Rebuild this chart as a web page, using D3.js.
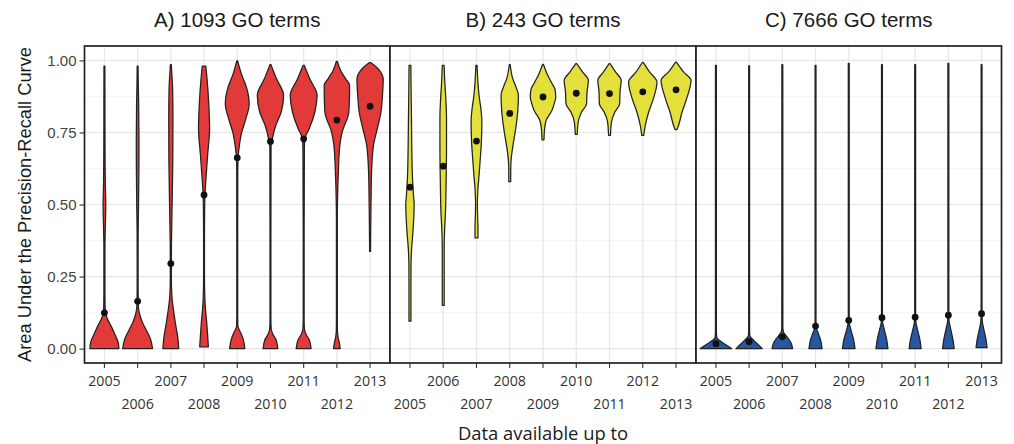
<!DOCTYPE html>
<html>
<head>
<meta charset="utf-8">
<script src="https://cdn.jsdelivr.net/npm/d3@7"></script>
<style>
html,body{margin:0;padding:0;background:#fff;}
svg{display:block;}
</style>
</head>
<body>
<svg id="chart" width="1014" height="444"></svg>
<script>
// ---------------- DATA ----------------
const years = ["2005","2006","2007","2008","2009","2010","2011","2012","2013"];
const panelTitles = ["A) 1093 GO terms", "B) 243 GO terms", "C) 7666 GO terms"];
const yTicks = [0, 0.25, 0.5, 0.75, 1.0];
const yMinorTicks = [0.125, 0.375, 0.625, 0.875];
const xTitle = "Data available up to";
const yTitle = "Area Under the Precision-Recall Curve";

// summary points (one per year)
const pointsA = [0.124, 0.164, 0.295, 0.533, 0.662, 0.719, 0.728, 0.793, 0.841];
const pointsB = [0.560, 0.633, 0.720, 0.816, 0.873, 0.886, 0.885, 0.891, 0.898];
const pointsC = [0.017, 0.024, 0.041, 0.078, 0.098, 0.107, 0.109, 0.116, 0.121];

// violin profiles: [AUPRC value, relative density]
const violinsA = [
  [[0,0.97],[0.02,0.93],[0.055,0.65],[0.078,0.45],[0.101,0.22],[0.119,0.1],[0.135,0.05],[0.2,0.035],[0.35,0.035],[0.42,0.06],[0.5,0.09],[0.57,0.06],[0.7,0.04],[0.85,0.035],[0.98,0.03]],
  [[0,1.0],[0.032,0.87],[0.067,0.55],[0.09,0.33],[0.113,0.17],[0.136,0.07],[0.16,0.04],[0.25,0.03],[0.4,0.035],[0.5,0.06],[0.6,0.08],[0.72,0.09],[0.85,0.07],[0.93,0.04],[0.98,0.03]],
  [[0,0.53],[0.032,0.48],[0.09,0.3],[0.136,0.17],[0.17,0.09],[0.205,0.05],[0.25,0.035],[0.35,0.04],[0.45,0.07],[0.55,0.1],[0.65,0.13],[0.8,0.14],[0.9,0.12],[0.96,0.06],[0.985,0.03]],
  [[0.006,0.29],[0.055,0.23],[0.09,0.18],[0.136,0.1],[0.182,0.05],[0.25,0.03],[0.4,0.03],[0.48,0.04],[0.544,0.07],[0.59,0.13],[0.671,0.24],[0.764,0.37],[0.845,0.32],[0.937,0.2],[0.98,0.12]],
  [[0,0.51],[0.032,0.4],[0.055,0.23],[0.067,0.11],[0.08,0.04],[0.12,0.03],[0.4,0.03],[0.62,0.035],[0.666,0.06],[0.7,0.13],[0.747,0.28],[0.793,0.55],[0.85,0.8],[0.908,0.61],[0.954,0.27],[0.998,0.03]],
  [[0,0.49],[0.03,0.38],[0.05,0.16],[0.069,0.05],[0.1,0.03],[0.4,0.03],[0.7,0.04],[0.729,0.13],[0.775,0.36],[0.821,0.72],[0.879,0.88],[0.937,0.4],[0.965,0.18],[0.985,0.04]],
  [[0,0.5],[0.03,0.38],[0.05,0.16],[0.069,0.05],[0.1,0.03],[0.4,0.03],[0.7,0.05],[0.735,0.12],[0.762,0.36],[0.821,0.75],[0.879,0.9],[0.937,0.4],[0.965,0.18],[0.983,0.04]],
  [[0,0.22],[0.02,0.17],[0.04,0.08],[0.06,0.04],[0.1,0.03],[0.45,0.03],[0.55,0.06],[0.614,0.1],[0.706,0.2],[0.752,0.36],[0.82,0.8],[0.87,0.84],[0.914,0.85],[0.937,0.58],[0.965,0.25],[0.997,0.03]],
  [[0.337,0.03],[0.45,0.05],[0.533,0.07],[0.614,0.1],[0.706,0.23],[0.764,0.49],[0.821,0.73],[0.879,0.83],[0.937,0.88],[0.96,0.7],[0.978,0.4],[0.992,0.06]]
];
const violinsB = [
  [[0.095,0.065],[0.2,0.065],[0.29,0.07],[0.338,0.1],[0.406,0.2],[0.45,0.25],[0.498,0.28],[0.53,0.24],[0.56,0.2],[0.59,0.17],[0.706,0.12],[0.8,0.1],[0.9,0.075],[0.983,0.06]],
  [[0.15,0.065],[0.36,0.065],[0.39,0.08],[0.42,0.1],[0.47,0.15],[0.535,0.18],[0.6,0.2],[0.7,0.22],[0.8,0.22],[0.87,0.17],[0.93,0.1],[0.983,0.06]],
  [[0.384,0.1],[0.42,0.1],[0.46,0.075],[0.5,0.06],[0.557,0.1],[0.6,0.17],[0.649,0.24],[0.72,0.33],[0.787,0.36],[0.83,0.3],[0.879,0.17],[0.93,0.09],[0.983,0.04]],
  [[0.579,0.065],[0.62,0.065],[0.66,0.1],[0.706,0.22],[0.764,0.4],[0.821,0.53],[0.879,0.58],[0.91,0.4],[0.937,0.2],[0.985,0.03]],
  [[0.724,0.065],[0.76,0.1],[0.793,0.22],[0.827,0.6],[0.85,0.75],[0.873,0.85],[0.9,0.8],[0.92,0.6],[0.95,0.3],[0.986,0.03]],
  [[0.743,0.065],[0.787,0.13],[0.82,0.35],[0.85,0.69],[0.89,0.72],[0.931,0.81],[0.96,0.42],[0.989,0.03]],
  [[0.74,0.065],[0.787,0.13],[0.82,0.35],[0.85,0.68],[0.89,0.7],[0.931,0.78],[0.96,0.4],[0.989,0.03]],
  [[0.74,0.065],[0.775,0.17],[0.82,0.39],[0.869,0.72],[0.925,0.95],[0.96,0.45],[0.993,0.03]],
  [[0.76,0.065],[0.775,0.17],[0.82,0.4],[0.869,0.72],[0.931,1.0],[0.96,0.5],[0.994,0.03]]
];
const violinsC = [
  [[0,1.05],[0.008,0.82],[0.016,0.58],[0.025,0.34],[0.033,0.14],[0.04,0.05],[0.06,0.03],[0.983,0.03]],
  [[0,0.88],[0.01,0.68],[0.02,0.48],[0.03,0.28],[0.04,0.1],[0.048,0.04],[0.07,0.03],[0.981,0.03]],
  [[0,0.69],[0.02,0.58],[0.035,0.4],[0.048,0.2],[0.058,0.07],[0.075,0.035],[0.985,0.03]],
  [[0,0.44],[0.032,0.33],[0.055,0.17],[0.072,0.05],[0.09,0.03],[0.983,0.03]],
  [[0,0.42],[0.03,0.33],[0.06,0.17],[0.085,0.05],[0.1,0.03],[0.99,0.03]],
  [[0,0.4],[0.03,0.32],[0.065,0.16],[0.09,0.05],[0.11,0.03],[0.985,0.03]],
  [[0,0.4],[0.03,0.32],[0.065,0.16],[0.092,0.05],[0.11,0.03],[0.985,0.03]],
  [[0,0.39],[0.03,0.31],[0.067,0.16],[0.095,0.05],[0.115,0.03],[0.99,0.03]],
  [[0.003,0.37],[0.03,0.3],[0.067,0.15],[0.095,0.05],[0.12,0.03],[0.985,0.03]]
];
const panelColors = ["#e23a38", "#e3e03c", "#2757a2"];

// ---------------- LAYOUT ----------------
const svg = d3.select("#chart");
const plotTop = 46, plotBottom = 363;
const panelEdges = [84.5, 390, 696, 1001.5];
const panels = [
  {title: panelTitles[0], points: pointsA, violins: violinsA, color: panelColors[0], firstRowOdd: true},
  {title: panelTitles[1], points: pointsB, violins: violinsB, color: panelColors[1], firstRowOdd: false},
  {title: panelTitles[2], points: pointsC, violins: violinsC, color: panelColors[2], firstRowOdd: true}
];

const y = d3.scaleLinear().domain([-0.05, 1.05]).range([plotBottom, plotTop]);

// y axis title
svg.append("text")
  .attr("transform", `translate(31,${(plotTop+plotBottom)/2}) rotate(-90)`)
  .attr("text-anchor", "middle")
  .attr("font-family", "Liberation Sans, Arial, sans-serif")
  .attr("font-size", 18.3)
  .attr("fill", "#1a1a1a")
  .text(yTitle);

// y axis (left of panel A)
const yAxis = d3.axisLeft(y).tickValues(yTicks).tickFormat(d3.format(".2f")).tickSize(5).tickPadding(3);
const yg = svg.append("g").attr("transform", `translate(${panelEdges[0]},0)`).call(yAxis);
yg.select(".domain").remove();
yg.selectAll(".tick line").attr("stroke", "#333").attr("stroke-width", 1.1);
yg.selectAll(".tick text").attr("font-family", "Liberation Sans, Arial, sans-serif").attr("font-size", 15).attr("fill", "#444");

const area = d3.area().curve(d3.curveMonotoneY);

panels.forEach((p, i) => {
  const x0 = panelEdges[i], x1 = panelEdges[i+1];
  const x = d3.scalePoint().domain(years).range([x0, x1]).padding(0.6);
  const w = d3.scaleLinear().domain([0, 1]).range([0, x.step() * 0.45]);
  const g = svg.append("g");

  // background
  g.append("rect").attr("x", x0).attr("y", plotTop).attr("width", x1 - x0).attr("height", plotBottom - plotTop).attr("fill", "#fff");

  // grid
  g.selectAll(".ymin").data(yMinorTicks).join("line")
    .attr("x1", x0).attr("x2", x1).attr("y1", d => y(d)).attr("y2", d => y(d))
    .attr("stroke", "#f1f1f1").attr("stroke-width", 0.7);
  g.selectAll(".ymaj").data(yTicks).join("line")
    .attr("x1", x0).attr("x2", x1).attr("y1", d => y(d)).attr("y2", d => y(d))
    .attr("stroke", "#e6e6e6").attr("stroke-width", 1.2);
  g.selectAll(".xmaj").data(years).join("line")
    .attr("x1", d => x(d)).attr("x2", d => x(d)).attr("y1", plotTop).attr("y2", plotBottom)
    .attr("stroke", "#e6e6e6").attr("stroke-width", 1.2);

  // violins
  g.selectAll(".violin").data(p.violins).join("path")
    .attr("d", (prof, j) => {
      const cx = x(years[j]);
      return area.y(d => y(d[0])).x0(d => cx - w(d[1])).x1(d => cx + w(d[1]))(prof);
    })
    .attr("fill", p.color)
    .attr("stroke", "#222")
    .attr("stroke-width", 1.25)
    .attr("stroke-linejoin", "round");

  // points
  g.selectAll(".pt").data(p.points).join("circle")
    .attr("cx", (d, j) => x(years[j])).attr("cy", d => y(d)).attr("r", 3.4)
    .attr("fill", "#111");

  // border
  g.append("rect").attr("x", x0).attr("y", plotTop).attr("width", x1 - x0).attr("height", plotBottom - plotTop)
    .attr("fill", "none").attr("stroke", "#222").attr("stroke-width", 1.7);

  // x ticks
  g.selectAll(".xt").data(years).join("line")
    .attr("x1", d => x(d)).attr("x2", d => x(d)).attr("y1", plotBottom).attr("y2", plotBottom + 5)
    .attr("stroke", "#333").attr("stroke-width", 1.1);

  // x tick labels (two staggered rows)
  g.selectAll(".xl").data(years).join("text")
    .attr("x", d => x(d))
    .attr("y", (d, j) => ((j % 2 === 0) === p.firstRowOdd) ? 386 : 409)
    .attr("text-anchor", "middle")
    .attr("font-family", "Open Sans, sans-serif")
    .attr("font-size", 14.2)
    .attr("fill", "#333")
    .text(d => d);

  // panel title
  g.append("text")
    .attr("x", (x0 + x1) / 2).attr("y", 27)
    .attr("text-anchor", "middle")
    .attr("font-family", "Liberation Sans, Arial, sans-serif")
    .attr("font-size", 20.5)
    .attr("fill", "#1a1a1a")
    .text(p.title);
});

// x axis title
svg.append("text")
  .attr("x", (panelEdges[0] + panelEdges[3]) / 2).attr("y", 440)
  .attr("text-anchor", "middle")
  .attr("font-family", "Open Sans, sans-serif")
  .attr("font-size", 18.4)
  .attr("fill", "#1a1a1a")
  .text(xTitle);
</script>
</body>
</html>
